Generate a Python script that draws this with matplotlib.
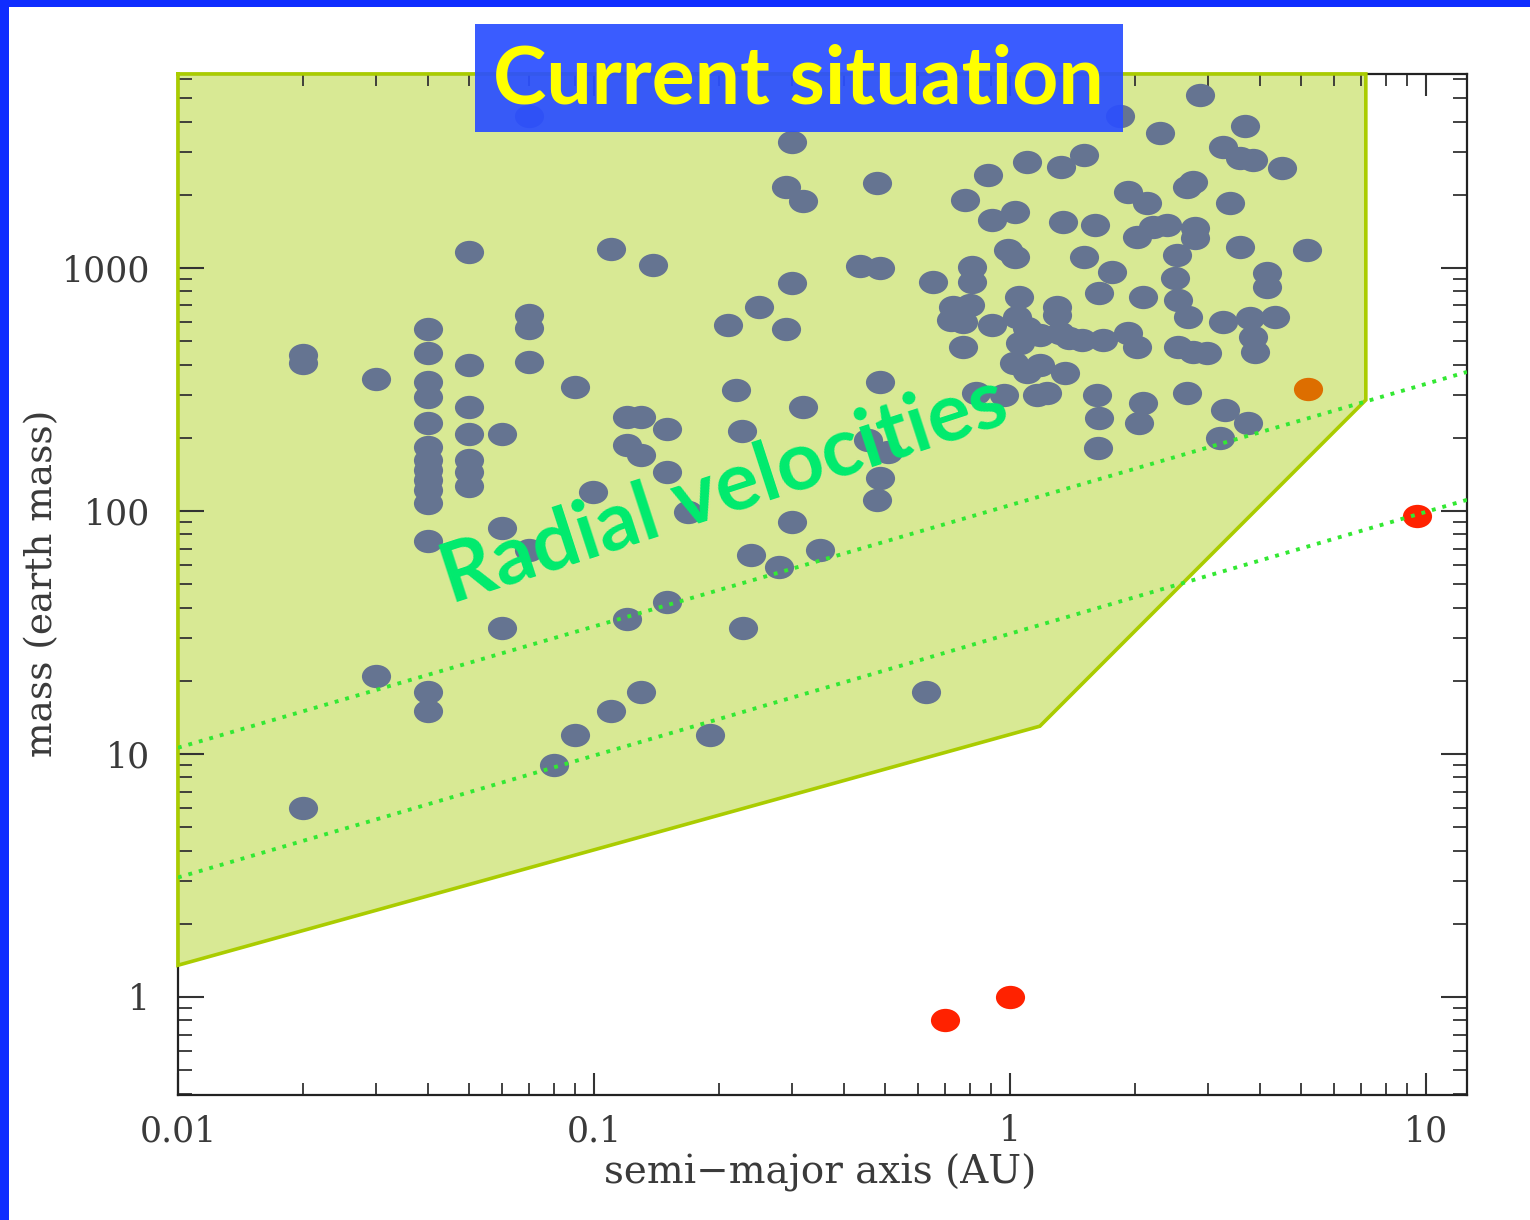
import matplotlib
matplotlib.use('Agg')
import matplotlib.pyplot as plt
from matplotlib.path import Path
from matplotlib.markers import MarkerStyle
from matplotlib.transforms import Affine2D
from matplotlib.patches import Polygon, Rectangle
from matplotlib.ticker import LogLocator, NullFormatter

# known exoplanets: semi-major axis (AU) and mass (earth masses)
exo_a = [0.02, 0.02, 0.02, 0.03, 0.03,
         0.04, 0.04, 0.04, 0.04, 0.04, 0.04, 0.04, 0.04, 0.04, 0.04, 0.04, 0.04, 0.04, 0.04,
         0.05, 0.05, 0.05, 0.05, 0.05, 0.05, 0.05,
         0.06, 0.06, 0.06, 0.07, 0.07, 0.07, 0.07, 0.07,
         0.08, 0.09, 0.09, 0.0995, 0.11, 0.11, 0.12, 0.12, 0.12, 0.13, 0.13, 0.13,
         0.139, 0.15, 0.15, 0.15, 0.168, 0.19, 0.21, 0.22, 0.227, 0.228, 0.238, 0.25,
         0.278, 0.29, 0.29, 0.3, 0.3, 0.3, 0.318, 0.318, 0.349, 0.436, 0.456,
         0.479, 0.479, 0.487, 0.487, 0.487, 0.509, 0.63,
         0.653, 0.72, 0.73, 0.77, 0.77, 0.78, 0.80, 0.81, 0.81, 0.83, 0.885, 0.905, 0.905,
         0.97, 0.99, 1.02, 1.03, 1.03, 1.04, 1.05, 1.06, 1.10, 1.10, 1.10, 1.16, 1.18, 1.18,
         1.23, 1.30, 1.30, 1.32, 1.33, 1.34, 1.36, 1.39, 1.49, 1.51, 1.51, 1.60, 1.62, 1.63,
         1.64, 1.64, 1.67, 1.76, 1.84, 1.92, 1.92, 2.02, 2.02, 2.04, 2.09, 2.09, 2.13, 2.21,
         2.29, 2.38, 2.49, 2.52, 2.54, 2.54, 2.66, 2.75, 2.66, 2.68, 2.76, 2.79, 2.79, 2.86,
         2.97, 3.2, 3.25, 3.25, 3.29, 3.38, 3.57, 3.57, 3.67, 3.73, 3.78, 3.84, 3.84, 3.88,
         4.15, 4.15, 4.33, 4.51, 5.17]
exo_m = [6.0, 440, 405, 350, 21,
         560, 447, 340, 294, 230, 183, 162, 147, 134, 122, 108, 75, 18, 15,
         1160, 400, 268, 207, 162, 145, 126,
         207, 85, 33, 640, 565, 410, 69, 4200,
         9, 324, 12, 120, 1200, 15, 244, 187, 36, 244, 170, 18,
         1030, 217, 145, 42, 99, 12, 583, 315, 213, 33, 66, 691,
         59, 2155, 561, 3300, 867, 90, 1887, 268, 69, 1019, 196,
         2238, 111, 1000, 340, 137, 175, 18,
         876, 611, 691, 600, 473, 1905, 705, 1009, 876, 306, 2415, 1577, 583,
         300, 1186, 406, 1700, 1109, 629, 760, 491, 2730, 566, 373, 300, 530, 399,
         306, 691, 641, 540, 2605, 1547, 370, 515, 506, 2917, 1109, 1503, 300, 182,
         789, 241, 506, 963, 4200, 2055, 540, 1342, 473, 230, 760, 278, 1851, 1475,
         3594, 1503, 910, 1130, 738, 473, 2155, 2250, 306, 629, 451, 1461, 1328, 5150,
         447, 200, 3148, 600, 260, 1851, 2837, 1220, 3840, 230, 623, 2782, 520, 451,
         954, 835, 629, 2580, 1186]

# solar system planets
solar_a = [0.70, 1.0, 9.5]
solar_m = [0.80, 1.0, 95]
jup_a = [5.2]
jup_m = [318]

# radial velocity detection region
region_a = [0.01, 7.17, 7.17, 1.18, 0.01]
region_m = [6280, 6280, 286, 13.0, 1.35]

# dotted detection limits
rv_line_a = [0.01, 12.55]
rv_upper_m = [10.6, 373]
rv_lower_m = [3.1, 111]

x_ticks = [0.01, 0.1, 1, 10]
x_labels = ['0.01', '0.1', '1', '10']
y_ticks = [1, 10, 100, 1000]
y_labels = ['1', '10', '100', '1000']

fig = plt.figure(figsize=(15.3, 12.2), dpi=100)
ax = fig.add_axes([0.1163, 0.1025, 0.8425, 0.8369])
ax.set_xscale('log')
ax.set_yscale('log')
ax.set_xlim(0.01, 12.55)
ax.set_ylim(0.395, 6280)

poly = Polygon(list(zip(region_a, region_m)), closed=True, facecolor='#d8e994',
               edgecolor='none', zorder=1)
ax.add_patch(poly)
ax.plot(region_a + [region_a[0]], region_m + [region_m[0]], color='#aacc00', lw=2.6,
        zorder=3, clip_on=False, solid_joinstyle='miter')

ell = Path.unit_circle().transformed(Affine2D().scale(1, 0.8))
mk = MarkerStyle(ell)

ax.plot(exo_a, exo_m, linestyle='none', marker=mk, markersize=21, color='#657491',
        markeredgewidth=0, zorder=4)
ax.plot(solar_a, solar_m, linestyle='none', marker=mk, markersize=21, color='#ff2200',
        markeredgewidth=0, zorder=4)
ax.plot(jup_a, jup_m, linestyle='none', marker=mk, markersize=21, color='#dd6e00',
        markeredgewidth=0, zorder=4)

ax.plot(rv_line_a, rv_upper_m, color='#33e833', lw=2.8, linestyle=(0, (1, 1.8)), zorder=5)
ax.plot(rv_line_a, rv_lower_m, color='#33e833', lw=2.8, linestyle=(0, (1, 1.8)), zorder=5)

ax.set_xticks(x_ticks)
ax.set_xticklabels(x_labels)
ax.set_yticks(y_ticks)
ax.set_yticklabels(y_labels)
ax.xaxis.set_minor_locator(LogLocator(base=10, subs=range(2, 10)))
ax.yaxis.set_minor_locator(LogLocator(base=10, subs=range(2, 10)))
ax.xaxis.set_minor_formatter(NullFormatter())
ax.yaxis.set_minor_formatter(NullFormatter())
ax.tick_params(which='both', direction='in', top=True, right=True, color='#333333')
ax.tick_params(axis='x', which='major', length=16, width=1.5, pad=14)
ax.tick_params(axis='x', which='minor', length=8.5, width=1.3)
ax.tick_params(axis='y', which='major', length=19, width=1.5, pad=20)
ax.tick_params(axis='y', which='minor', length=10, width=1.3)
for lab in ax.get_xticklabels() + ax.get_yticklabels():
    lab.set_fontfamily('DejaVu Serif')
    lab.set_fontsize(25)
    lab.set_color('#3a3a3a')
for s in ax.spines.values():
    s.set_linewidth(1.6)
    s.set_color('#222222')

fig.text(0.536, 0.039, 'semi\u2212major axis (AU)', ha='center', va='center',
         family='DejaVu Serif', fontsize=28, color='#3a3a3a')
fig.text(0.0275, 0.522, 'mass (earth mass)', ha='center', va='center', rotation=90,
         family='DejaVu Serif', fontsize=27, color='#3a3a3a')

ax.text(0.4735, 0.598, 'Radial velocities', transform=fig.transFigure, rotation=18,
        ha='center', va='center', fontsize=59, fontweight='bold', color='#00eb6e',
        family=['Lato', 'DejaVu Sans'], zorder=6)

# title box
fig.patches.append(Rectangle((0.3105, 0.8918), 0.4235, 0.0885, transform=fig.transFigure,
                             facecolor='#2b4fff', edgecolor='none', alpha=0.93, zorder=10))
fig.text(0.522, 0.934, 'Current situation', ha='center', va='center', fontsize=58,
         fontweight='bold', color='#ffff00', family=['Lato', 'DejaVu Sans'],
         zorder=11)

# blue slide border
fig.patches.append(Rectangle((0, 0), 0.0059, 1, transform=fig.transFigure,
                             facecolor='#0f2dff', edgecolor='none', zorder=12))
fig.patches.append(Rectangle((0, 0.9943), 1, 0.0057, transform=fig.transFigure,
                             facecolor='#0f2dff', edgecolor='none', zorder=12))

fig.savefig('out.png', dpi=100)
